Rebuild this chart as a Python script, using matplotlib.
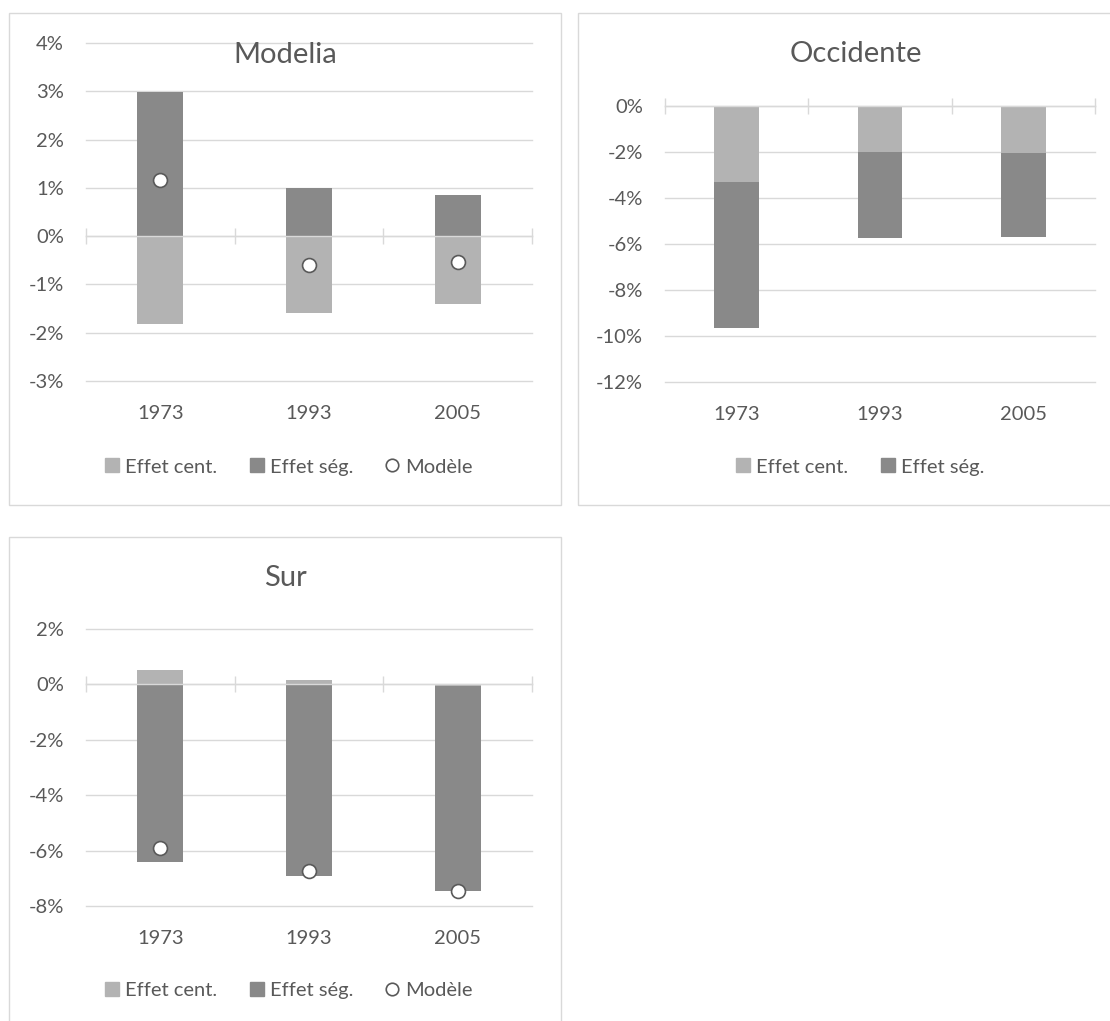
import numpy as np
import matplotlib
matplotlib.use("Agg")
import matplotlib.pyplot as plt
import matplotlib.transforms as mtrans
from matplotlib.patches import Rectangle
from matplotlib.lines import Line2D
from matplotlib.ticker import FuncFormatter

plt.rcParams['font.family'] = ['Lato', 'DejaVu Sans']

# data (percent)
years = ['1973', '1993', '2005']

modelia_cent = [-1.82, -1.60, -1.40]
modelia_seg = [2.98, 1.00, 0.86]
modelia_model = [1.16, -0.60, -0.54]

occidente_cent = [-3.30, -2.00, -2.05]
occidente_seg = [-6.35, -3.75, -3.65]

sur_cent = [0.52, 0.15, -0.05]
sur_seg = [-6.40, -6.90, -7.40]
sur_model = [-5.90, -6.75, -7.45]

C_CENT = '#b3b3b3'
C_SEG = '#898989'
C_GRID = '#d9d9d9'
C_TEXT = '#595959'
FS = 14.5

W, H = 1110, 1021
fig = plt.figure(figsize=(W / 100, H / 100), dpi=100)


def px_axes(left, right, top, bottom):
    return fig.add_axes([left / W, 1 - bottom / H, (right - left) / W, (bottom - top) / H])


def frame(x0, y0, x1, y1):
    fig.patches.append(Rectangle((x0 / W, 1 - y1 / H), (x1 - x0) / W, (y1 - y0) / H,
                                 transform=fig.transFigure, fill=False,
                                 edgecolor=C_GRID, lw=1.0))


def seg_bottom(cent, seg):
    # excel style stacking: positives on positives, negatives on negatives
    a = np.array(cent)
    b = np.array(seg)
    return np.where((b >= 0) == (a >= 0), a, 0.0)


def panel(ax, cent, seg, model, ylim, step):
    x = np.arange(len(years))
    ax.bar(x, cent, width=0.31, color=C_CENT, zorder=1)
    ax.bar(x, seg, width=0.31, bottom=seg_bottom(cent, seg), color=C_SEG, zorder=1)
    if model is not None:
        ax.plot(x, model, 'o', ms=10, mfc='white', mec=C_TEXT, mew=1.2, zorder=4)
    ax.set_xlim(-0.5, len(years) - 0.5)
    ax.set_ylim(*ylim)
    ax.set_yticks(np.arange(ylim[0], ylim[1] + 0.01, step))
    ax.yaxis.set_major_formatter(FuncFormatter(lambda v, p: f"{int(round(v))}%"))
    ax.set_axisbelow(True)
    ax.yaxis.grid(True, color=C_GRID, lw=1.0)
    for gl in ax.get_ygridlines():
        gl.set_clip_on(False)
    for s in ['left', 'right', 'top']:
        ax.spines[s].set_visible(False)
    ax.spines['bottom'].set_position(('data', 0))
    ax.spines['bottom'].set_color(C_GRID)
    ax.spines['bottom'].set_linewidth(1.0)
    ax.spines['bottom'].set_zorder(2.5)
    ax.set_xticks(np.arange(-0.5, len(years), 1.0))
    ax.tick_params(axis='x', direction='inout', length=11, width=1.0, color=C_GRID,
                   labelbottom=False)
    ax.tick_params(axis='y', length=0, pad=16, labelsize=FS, labelcolor=C_TEXT)
    # category labels 32 px below the plot area
    tr = ax.get_xaxis_transform() + mtrans.ScaledTranslation(0, -32 / 100, fig.dpi_scale_trans)
    for i, yr in enumerate(years):
        ax.text(i, 0, yr, transform=tr, ha='center', va='center', fontsize=FS, color=C_TEXT)


def legend(cx, cy, with_model):
    handles = [Line2D([], [], ls='none', marker='s', ms=10, mfc=C_CENT, mec=C_CENT),
               Line2D([], [], ls='none', marker='s', ms=10, mfc=C_SEG, mec=C_SEG)]
    labels = ['Effet cent.', 'Effet ség.']
    if with_model:
        handles.append(Line2D([], [], ls='none', marker='o', ms=9, mfc='white', mec=C_TEXT, mew=1.2))
        labels.append('Modèle')
    fig.legend(handles, labels, loc='center', bbox_to_anchor=(cx / W, 1 - cy / H),
               ncol=len(labels), frameon=False, fontsize=FS, labelcolor=C_TEXT,
               handlelength=0.7, handletextpad=0.3, columnspacing=1.6,
               borderpad=0, borderaxespad=0)


# panel frames
frame(9, 13, 561, 505)
frame(578, 13, 1140, 505)
frame(9, 537, 561, 1040)

ax1 = px_axes(86, 532, 43, 381)
panel(ax1, modelia_cent, modelia_seg, modelia_model, (-3, 4), 1)
ax2 = px_axes(665, 1095, 106, 382)
panel(ax2, occidente_cent, occidente_seg, None, (-12, 0), 2)
ax3 = px_axes(86, 532, 629, 906)
panel(ax3, sur_cent, sur_seg, sur_model, (-8, 2), 2)

fig.text(285 / W, 1 - 55 / H, 'Modelia', ha='center', va='center', fontsize=21, color=C_TEXT)
fig.text(856 / W, 1 - 54 / H, 'Occidente', ha='center', va='center', fontsize=21, color=C_TEXT)
fig.text(285 / W, 1 - 578 / H, 'Sur', ha='center', va='center', fontsize=21, color=C_TEXT)

legend(289, 467, True)
legend(860, 467, False)
legend(289, 990, True)

fig.savefig('out.png', dpi=100, facecolor='white')
